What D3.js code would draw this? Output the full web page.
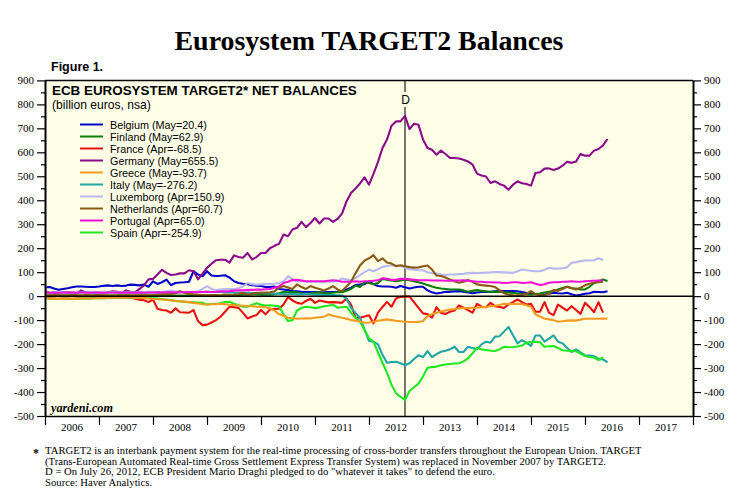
<!DOCTYPE html>
<html>
<head>
<meta charset="utf-8">
<script src="https://cdnjs.cloudflare.com/ajax/libs/d3/7.8.5/d3.min.js"></script>
<style>
html, body { margin: 0; padding: 0; background: #fff; }
svg { display: block; }
</style>
</head>
<body>
<svg width="750" height="500"></svg>
<script>
var countries = ['Belgium', 'Finland', 'France', 'Germany', 'Greece', 'Italy', 'Luxemborg', 'Netherlands', 'Portugal', 'Spain'];
var legendLabels = ['Belgium (May=20.4)', 'Finland (May=62.9)', 'France (Apr=-68.5)', 'Germany (May=655.5)', 'Greece (May=-93.7)',
    'Italy (May=-276.2)', 'Luxemborg (Apr=150.9)', 'Netherlands (Apr=60.7)', 'Portugal (Apr=65.0)', 'Spain (Apr=-254.9)'];
var colors = ['#0000cc', '#0a7d0a', '#e81010', '#8a0a8a', '#f59a20', '#20a5a5', '#b8b8f0', '#8a5a14', '#f010d8', '#20e820'];
var years = [2006, 2007, 2008, 2009, 2010, 2011, 2012, 2013, 2014, 2015, 2016, 2017];
var footnotes = [
    'TARGET2 is an interbank payment system for the real-time processing of cross-border transfers throughout the European Union. TARGET',
    '(Trans-European Automated Real-time Gross Settlement Express Transfer System) was replaced in November 2007 by TARGET2.',
    'D = On July 26, 2012, ECB President Mario Draghi pledged to do "whatever it takes" to defend the euro.',
    'Source: Haver Analytics.'
];

// monthly values, one row per year, first point at start of 2006
var belgium = [36,38,32,27,30,33,37,40,40,39,38,38,
    40,43,45,42,45,42,44,48,47,45,48,39,
    62,51,58,69,46,55,57,58,60,104,90,83,
    104,86,84,85,87,78,62,55,52,50,46,44,
    42,38,38,40,30,28,25,21,20,18,17,17,
    17,16,16,17,17,18,18,28,35,46,48,50,
    62,50,42,40,40,39,35,42,37,32,36,39,
    39,24,16,11,14,18,18,20,21,18,15,12,
    15,17,17,18,20,21,21,21,21,20,17,13,
    11,9,8,7,10,14,12,11,14,8,3,6,
    10,12,18,17,16,20.4];
var finland = [2,3,3,2,3,2,3,3,2,3,2,3,
    3,2,3,2,3,3,4,3,2,3,4,3,
    4,3,4,2,4,3,2,3,4,2,3,2,
    3,4,5,3,4,6,4,5,6,6,7,8,
    6,7,6,8,12,17,16,17,16,12,10,12,
    14,15,12,12,14,17,16,22,30,44,38,58,
    55,50,55,72,68,65,62,65,69,66,62,58,
    53,46,40,35,32,30,28,28,28,24,18,22,
    25,22,20,18,18,18,16,15,13,11,10,8,
    7,9,11,15,18,21,28,34,39,33,32,28,
    28,39,55,62,69,62.9];
var france = [-8,-9,-10,-11,-10,-10,-11,-10,-9,-9,-9,-8,
    -8,-8,-7,-6,-6,-5,-5,-6,-11,-15,-17,-25,
    -14,-53,-58,-60,-69,-51,-67,-68,-69,-58,-104,-121,
    -119,-110,-100,-86,-65,-44,-46,-49,-70,-93,-85,-79,
    -58,-76,-56,-53,-52,-35,-4,-18,-28,-32,-20,-11,
    -28,-18,-22,-26,-25,-26,-28,-10,-35,-90,-90,-85,
    -80,-114,-69,-45,-24,-44,-10,-3,-2,-2,-25,-49,
    -72,-75,-90,-46,-70,-74,-65,-60,-39,-48,-58,-69,
    -32,-44,-46,-28,-42,-45,-49,-35,-25,-14,-25,-35,
    -32,-65,-65,-25,-69,-79,-35,-48,-60,-42,-58,-74,
    -28,-45,-67,-25,-68.5];
var germany = [22,14,12,10,12,14,12,10,24,15,14,12,
    10,12,15,20,18,12,24,18,16,30,45,70,
    72,90,110,97,88,90,95,95,108,104,70,94,
    118,135,150,152,152,140,170,163,160,180,153,163,
    180,180,200,210,218,257,250,278,285,310,288,305,
    326,303,324,324,310,322,344,395,430,449,470,496,
    465,510,560,618,653,711,729,729,752,697,719,715,
    653,618,611,590,607,593,576,576,574,569,562,549,
    511,503,499,472,479,468,461,444,465,479,471,468,
    461,514,517,532,533,526,532,544,561,556,562,593,
    586,586,607,614,629,655.5];
var greece = [-8,-10,-11,-12,-11,-10,-12,-11,-10,-9,-10,-9,
    -8,-9,-8,-7,-6,-5,-5,-6,-6,-7,-8,-10,
    -12,-13,-14,-16,-18,-20,-21,-23,-25,-28,-30,-34,
    -35,-34,-34,-32,-34,-36,-37,-39,-40,-41,-42,-44,
    -44,-46,-51,-60,-76,-82,-90,-92,-94,-93,-92,-93,
    -90,-88,-86,-76,-82,-86,-90,-94,-100,-102,-106,-111,
    -110,-107,-103,-100,-97,-100,-103,-105,-107,-108,-108,-108,
    -104,-83,-75,-69,-64,-60,-56,-54,-51,-50,-50,-49,
    -48,-46,-45,-42,-40,-37,-32,-33,-33,-32,-33,-38,
    -44,-76,-85,-94,-97,-100,-107,-105,-102,-101,-102,-98,
    -94,-94,-94,-94,-93,-93.7];
var italy = [14,14,15,14,15,16,15,14,15,15,14,15,
    15,14,15,15,14,15,14,15,14,15,14,15,
    15,16,15,16,16,15,16,16,17,17,16,17,
    18,17,18,17,15,16,14,14,13,14,13,12,
    14,12,12,10,10,8,8,10,8,8,10,8,
    6,6,5,6,5,4,3,-10,-49,-70,-90,-140,
    -187,-190,-201,-245,-278,-275,-274,-280,-288,-280,-262,-247,
    -254,-229,-254,-242,-232,-228,-222,-211,-233,-233,-211,-216,
    -222,-201,-190,-194,-169,-167,-148,-129,-163,-197,-183,-195,
    -208,-164,-164,-190,-177,-164,-190,-197,-215,-233,-222,-235,
    -247,-248,-250,-262,-264,-276.2];
var luxemborg = [14,15,16,15,14,15,16,15,14,15,16,15,
    15,14,15,16,15,14,15,16,15,16,17,18,
    18,17,18,20,22,20,18,17,16,17,20,30,
    42,30,25,28,30,30,30,33,40,55,50,48,
    49,50,50,52,55,62,83,72,62,62,60,60,
    60,60,60,60,60,62,74,70,65,75,88,100,
    111,104,112,122,126,129,128,126,118,112,110,108,
    108,100,96,94,90,88,90,90,92,93,96,97,
    96,97,98,99,101,100,99,98,97,104,111,108,
    106,104,104,110,118,115,115,116,120,139,142,146,
    149,149,150,158,150.9];
var netherlands = [3,4,5,4,3,4,5,4,3,5,4,3,
    3,4,3,2,3,4,3,3,4,4,3,4,
    4,6,8,8,10,12,21,14,10,8,6,5,
    4,5,3,4,6,5,6,8,14,5,10,14,
    14,15,16,20,35,42,36,30,49,38,30,42,
    35,30,24,32,42,28,21,40,60,95,128,148,
    158,171,146,158,140,136,125,129,125,121,119,120,
    125,128,111,86,84,78,69,62,56,60,67,60,
    49,46,44,42,38,25,12,6,4,3,5,10,
    21,8,4,5,10,25,22,30,39,34,28,35,
    45,52,56,58,60.7];
var portugal = [15,14,15,14,15,16,15,14,15,15,14,15,
    15,14,15,15,14,15,14,15,14,15,14,15,
    15,16,15,16,16,15,16,16,17,17,16,17,
    18,17,18,20,20,21,23,24,24,25,26,27,
    27,29,30,35,40,55,60,67,68,65,62,62,
    62,62,62,64,66,64,60,60,60,62,60,62,
    62,64,66,75,72,68,68,72,72,70,68,66,
    66,66,65,65,65,64,64,65,65,66,64,62,
    60,60,58,58,57,57,55,56,58,58,55,56,
    58,52,46,50,56,58,58,60,60,62,60,60,
    62,63,64,65,65.0];
var spain = [-8,-10,-11,-12,-11,-10,-12,-11,-10,-9,-10,-9,
    -8,-9,-8,-7,-6,-5,-5,-6,-6,-7,-8,-9,
    -9,-10,-12,-14,-16,-20,-22,-24,-25,-26,-27,-28,
    -35,-33,-33,-30,-25,-24,-32,-38,-44,-44,-36,-30,
    -36,-39,-38,-40,-42,-75,-104,-100,-60,-49,-44,-46,
    -50,-47,-42,-40,-36,-48,-46,-44,-69,-90,-107,-140,
    -176,-190,-235,-278,-319,-370,-405,-420,-433,-396,-380,-365,
    -335,-299,-296,-294,-288,-285,-283,-281,-280,-272,-260,-238,
    -215,-222,-225,-228,-229,-222,-211,-213,-212,-210,-206,-194,
    -192,-190,-192,-211,-209,-208,-216,-226,-228,-229,-230,-240,
    -250,-254,-256,-267,-254.9];

// greece last: it sits on top of the others in the original
var allSeries = [belgium, finland, france, germany, italy, luxemborg, netherlands, portugal, spain, greece];
var seriesColors = ['#0000cc', '#0a7d0a', '#e81010', '#8a0a8a', '#20a5a5', '#b8b8f0', '#8a5a14', '#f010d8', '#20e820', '#f59a20'];
var draghiDate = 2006 + 80 / 12;

var svg = d3.select('svg');
var left = 45, right = 693, top_ = 80.4, bottom = 416;
var bg = '#ffffe8';
var sansFont = '"Liberation Sans", Arial, sans-serif';
var serifFont = '"Liberation Serif", "Times New Roman", serif';

var x = d3.scaleLinear().domain([2006, 2018]).range([left, right]);
var y = d3.scaleLinear().domain([-500, 900]).range([bottom, top_]);

svg.append('rect')
    .attr('x', left).attr('y', top_)
    .attr('width', right - left).attr('height', bottom - top_)
    .attr('fill', bg);

// title texts
svg.append('text').attr('x', 369).attr('y', 50).attr('text-anchor', 'middle')
    .attr('font-family', serifFont).attr('font-weight', 'bold').attr('font-size', 27.9)
    .text('Eurosystem TARGET2 Balances');
svg.append('text').attr('x', 51).attr('y', 71)
    .attr('font-family', sansFont).attr('font-weight', 'bold').attr('font-size', 12.5)
    .text('Figure 1.');
svg.append('text').attr('x', 52).attr('y', 95)
    .attr('font-family', sansFont).attr('font-weight', 'bold').attr('font-size', 13.4)
    .text('ECB EUROSYSTEM TARGET2* NET BALANCES');
svg.append('text').attr('x', 52).attr('y', 109)
    .attr('font-family', sansFont).attr('font-size', 12.1)
    .text('(billion euros, nsa)');

// Draghi line
svg.append('line')
    .attr('x1', x(draghiDate)).attr('x2', x(draghiDate))
    .attr('y1', top_).attr('y2', bottom)
    .attr('stroke', '#77776a').attr('stroke-width', 2);
svg.append('rect')
    .attr('x', x(draghiDate) - 5).attr('y', 92)
    .attr('width', 10).attr('height', 15)
    .attr('fill', bg);
svg.append('text').attr('x', x(draghiDate) + 0.5).attr('y', 104).attr('text-anchor', 'middle')
    .attr('font-family', sansFont).attr('font-size', 12)
    .text('D');

var line = d3.line()
    .x(function(d, i) { return x(2006 + i / 12); })
    .y(function(d) { return y(d); });

svg.append('g')
    .selectAll('path')
    .data(allSeries)
    .enter()
    .append('path')
    .attr('d', function(d) { return line(d); })
    .attr('fill', 'none')
    .attr('stroke', function(d, i) { return seriesColors[i]; })
    .attr('stroke-width', 2.1)
    .attr('stroke-linejoin', 'round');

// zero line
svg.append('line')
    .attr('x1', left).attr('x2', right)
    .attr('y1', y(0)).attr('y2', y(0))
    .attr('stroke', '#000').attr('stroke-width', 1.5);

// legend
var legend = svg.append('g').selectAll('g')
    .data(countries)
    .enter()
    .append('g')
    .attr('transform', function(d, i) { return 'translate(80,' + (124.5 + i * 12) + ')'; });
legend.append('line')
    .attr('x1', 0).attr('x2', 23)
    .attr('stroke', function(d, i) { return colors[i]; })
    .attr('stroke-width', 2);
legend.append('text')
    .attr('x', 30).attr('y', 4)
    .attr('font-family', sansFont).attr('font-size', 10.8)
    .text(function(d, i) { return legendLabels[i]; });

// y axes, major and minor ticks
var majorTicks = d3.range(-500, 901, 100);
var minorTicks = d3.range(-450, 900, 100);

function drawY(axisFn, xPos) {
    var major = svg.append('g')
        .attr('transform', 'translate(' + xPos + ',0)')
        .call(axisFn(y).tickValues(majorTicks).tickSize(8).tickSizeOuter(0).tickPadding(3)
            .tickFormat(function(d) { return String(d); }));
    major.select('.domain').attr('stroke-width', 2);
    major.selectAll('.tick line').attr('stroke-width', 1.2);
    major.selectAll('text').attr('font-family', serifFont).attr('font-size', 11).attr('fill', '#000');

    var minor = svg.append('g')
        .attr('transform', 'translate(' + xPos + ',0)')
        .call(axisFn(y).tickValues(minorTicks).tickSize(4).tickSizeOuter(0).tickFormat(''));
    minor.select('.domain').remove();
    minor.selectAll('.tick line').attr('stroke-width', 1.2);
}
drawY(d3.axisLeft, left);
drawY(d3.axisRight, right);

// top border
svg.append('line').attr('x1', left).attr('x2', right).attr('y1', top_).attr('y2', top_)
    .attr('stroke', '#000').attr('stroke-width', 1.5);

var xAxis = svg.append('g')
    .attr('transform', 'translate(0,' + bottom + ')')
    .call(d3.axisBottom(x).tickValues(d3.range(2006, 2019)).tickSize(9).tickSizeOuter(0).tickFormat(''));
xAxis.select('.domain').attr('stroke-width', 1.5);
xAxis.selectAll('.tick line').attr('stroke-width', 1.2);

svg.append('g').selectAll('text')
    .data(years)
    .enter()
    .append('text')
    .attr('x', function(d) { return x(d + 0.5); })
    .attr('y', 431)
    .attr('text-anchor', 'middle')
    .attr('font-family', serifFont).attr('font-size', 11)
    .text(function(d) { return d; });

svg.append('text').attr('x', 51).attr('y', 412)
    .attr('font-family', serifFont).attr('font-weight', 'bold').attr('font-style', 'italic').attr('font-size', 12.2)
    .text('yardeni.com');

// footnotes
svg.append('text').attr('x', 33).attr('y', 457)
    .attr('font-family', serifFont).attr('font-weight', 'bold').attr('font-size', 12)
    .text('*');
svg.append('g').selectAll('text')
    .data(footnotes)
    .enter()
    .append('text')
    .attr('x', 45)
    .attr('y', function(d, i) { return 454 + i * 10.6; })
    .attr('font-family', serifFont).attr('font-size', 10.7)
    .text(function(d) { return d; });
</script>
</body>
</html>
